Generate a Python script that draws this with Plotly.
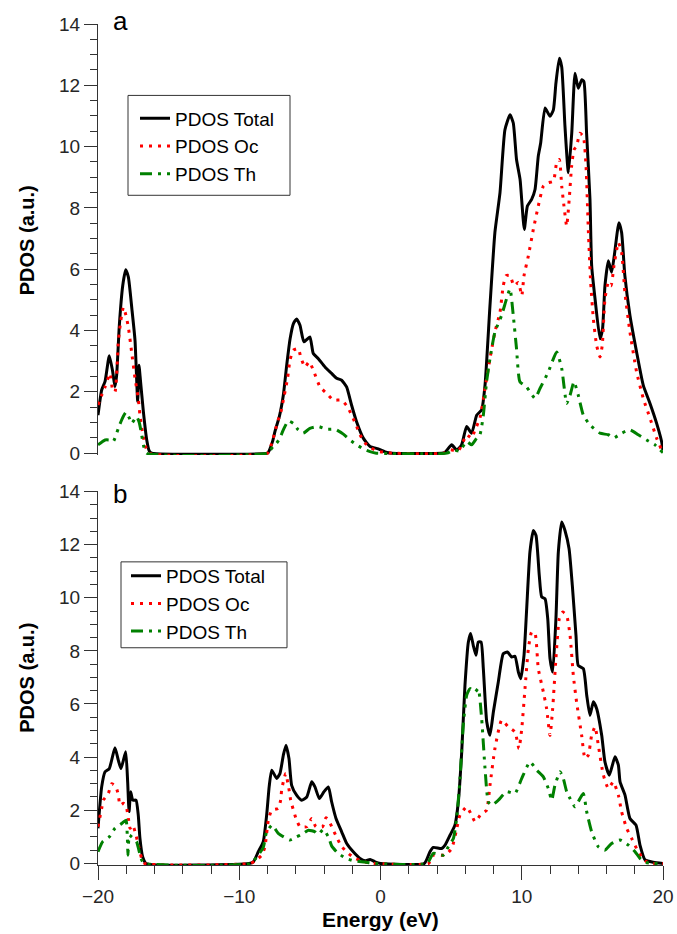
import plotly.graph_objects as go

# ---------------- data (panel a) ----------------
a_total_E = [-20,-19.74,-19.5,-19.2,-18.96,-18.8,-18.68,-18.49,-18.25,-18.04,-17.85,-17.6,-17.38,-17.19,-17.1,-17.0,-16.79,-16.55,-16.37,-16.2,
             -8.0,-7.94,-7.63,-7.47,-7.16,-6.88,-6.64,-6.4,-6.17,-5.94,-5.7,-5.42,-5.0,-4.76,-4.4,-3.93,-3.46,-3.1,-2.75,-2.4,-2.05,-1.7,-1.22,-0.74,-0.16,0.44,0.8,
             4.3,4.57,5.04,5.39,5.74,6.1,6.45,6.81,7.16,7.4,7.75,8.1,8.46,8.81,9.17,9.4,9.63,9.88,10.18,10.4,10.7,10.94,11.17,11.34,11.65,12.0,12.24,12.42,12.66,12.83,
             13.06,13.3,13.54,13.77,14.0,14.25,14.4,14.59,14.83,14.95,15.19,15.54,15.72,15.89,16.13,16.36,16.55,16.88,17.07,17.3,17.66,18.13,18.6,19.08,19.55,19.9,20]
a_total = [1.24,2.06,2.34,3.18,2.66,2.17,2.54,4.17,5.46,5.98,5.74,4.7,3.68,1.69,2.87,2.4,1.36,0.43,0.07,0,
           0,0.03,0.4,0.71,1.2,1.89,2.87,3.73,4.22,4.38,4.17,3.63,3.79,3.25,3.08,2.81,2.6,2.44,2.38,2.16,1.57,1.03,0.49,0.22,0.14,0.02,0,
           0,0.03,0.27,0.1,0.27,0.87,0.65,1.24,1.41,2.22,4.81,7.2,8.5,10.55,11.04,10.77,9.58,8.93,7.3,8.06,8.28,8.6,9.69,10.12,11.26,10.99,11.2,12.07,12.88,12.6,
           10.66,9.15,10.44,12.39,11.9,12.18,12.12,10.44,8.28,6.11,5.03,3.73,4.06,5.46,6.28,5.9,6.44,7.52,7.2,5.79,4.49,3.3,2.22,1.62,0.97,0.38,0.1]

a_oc_E = [-20,-19.74,-19.5,-19.15,-18.96,-18.8,-18.56,-18.4,-18.2,-18.02,-17.85,-17.62,-17.38,-17.15,-17.03,-16.86,-16.67,-16.4,
          -8.0,-7.82,-7.59,-7.3,-7.05,-6.81,-6.58,-6.41,-6.17,-5.82,-5.65,-5.35,-5.04,-4.76,-4.28,-3.81,-3.34,-2.75,-2.35,-2.04,-1.73,-1.45,-1.1,-0.63,-0.16,0.44,0.8,
          4.5,4.92,5.5,5.86,6.1,6.45,6.69,7.04,7.4,7.75,8.1,8.46,8.69,8.89,9.17,9.45,9.76,10.0,10.16,10.47,10.82,11.17,11.53,11.88,12.24,12.47,12.66,12.83,12.99,13.18,
          13.36,13.53,13.7,13.88,14.12,14.36,14.55,14.72,14.88,15.07,15.3,15.54,15.7,15.89,16.13,16.32,16.53,16.84,17.07,17.3,17.66,18.13,18.6,19.08,19.55,19.9,20]
a_oc = [1.57,1.89,2.16,2.6,2.06,2.0,3.63,4.28,4.76,4.49,4.11,3.3,2.44,1.79,1.24,0.71,0.27,0,
        0,0.16,0.49,1.0,1.35,1.89,2.44,3.03,3.36,3.41,3.14,2.81,2.98,2.71,2.16,1.95,1.73,1.73,1.52,1.24,0.92,0.6,0.33,0.16,0.06,0.02,0,
        0,0.11,0.07,0.38,0.6,0.49,0.76,1.14,2.11,3.08,3.95,4.6,5.46,5.79,5.79,5.46,5.57,5.14,5.79,6.44,7.3,8.06,8.71,8.82,8.87,9.47,9.58,8.71,8.06,7.41,
        8.28,9.36,9.9,10.01,10.44,10.33,9.36,7.2,5.57,4.38,3.52,3.14,3.52,5.03,5.57,5.46,6.11,6.87,6.55,5.25,3.95,2.65,1.79,1.14,0.49,0.11,0.03]

a_th_E = [-20,-19.5,-19.2,-18.92,-18.56,-18.33,-18.02,-17.78,-17.62,-17.27,-17.08,-16.91,-16.79,-16.55,
          -8.0,-7.8,-7.6,-7.35,-7.12,-6.88,-6.53,-6.17,-5.82,-5.47,-5.0,-4.4,-3.81,-3.22,-2.63,-2.16,-1.69,-1.22,-0.74,-0.3,
          4.7,5.16,5.6,6.1,6.45,6.81,7.04,7.28,7.51,7.75,8.1,8.57,8.92,9.17,9.4,9.63,9.87,10.34,10.94,11.29,11.88,12.47,12.83,13.18,13.42,13.7,14.0,14.36,
          14.83,15.54,16.13,16.48,17.07,17.66,18.25,18.84,19.43,19.79,20]
a_th = [0.27,0.43,0.43,0.38,0.81,1.08,1.33,1.14,0.97,1.19,1.0,0.6,0.27,0,
        0,0.1,0.22,0.33,0.49,0.76,1.05,0.97,0.76,0.65,0.81,0.87,0.78,0.78,0.62,0.43,0.27,0.14,0.05,0,
        0,0.1,0.07,0.38,0.27,0.49,0.6,1.24,2.33,3.08,3.95,4.49,5.03,5.36,4.49,3.41,2.33,2.16,1.79,2.11,2.65,3.3,2.76,1.62,1.89,2.33,1.89,1.24,
        0.92,0.65,0.6,0.49,0.65,0.76,0.6,0.43,0.27,0.11,0.02]

# ---------------- data (panel b) ----------------
b_total_E = [-20,-19.74,-19.5,-19.2,-18.8,-18.56,-18.37,-18.04,-17.9,-17.8,-17.69,-17.54,-17.31,-17.15,-17.03,-16.84,-16.6,
             -9.3,-9.0,-8.65,-8.3,-8.06,-7.88,-7.7,-7.35,-7.12,-6.88,-6.69,-6.48,-6.29,-5.94,-5.58,-5.22,-4.87,-4.64,-4.33,-4.0,-3.69,-3.46,-3.15,-2.75,-2.39,-1.93,-1.45,-1.1,-0.74,-0.39,0,
             3.1,3.5,3.74,4.33,4.57,4.92,5.27,5.51,5.75,5.98,6.22,6.38,6.57,6.76,6.92,7.12,7.28,7.52,7.75,7.99,8.34,8.69,8.98,9.29,9.52,9.76,9.93,10.16,10.35,10.58,10.82,11.01,
             11.24,11.41,11.65,11.84,12.0,12.19,12.42,12.59,12.83,13.06,13.35,13.58,13.84,14.0,14.36,14.6,14.83,15.07,15.3,15.66,15.89,16.2,16.6,16.84,16.96,17.31,17.66,18.09,18.37,18.73,19.32,20]
b_total = [1.32,2.88,3.45,3.57,4.35,3.88,3.57,4.2,3.07,1.95,2.7,2.38,2.38,1.82,0.94,0.25,0,
           0,0.06,0.44,0.82,1.82,2.9,3.51,3.2,3.38,4.07,4.45,3.95,2.94,2.57,2.38,2.5,3.07,2.88,2.44,2.7,2.88,2.32,1.69,1.19,0.75,0.44,0.19,0.1,0.15,0.06,0,
           0,0.44,0.6,0.56,0.69,1.06,1.44,2.32,4.2,6.7,8.33,8.65,8.2,7.83,8.33,8.33,7.33,5.33,4.82,5.7,6.83,7.89,7.96,7.77,7.8,7.2,6.95,7.83,9.59,11.72,12.53,12.34,
           10.84,10.03,9.96,9.21,7.71,7.2,9.21,11.72,12.85,12.53,11.84,10.46,8.58,7.45,7.33,6.33,5.57,6.08,5.83,4.82,3.82,3.32,4.01,3.7,3.07,2.57,1.69,1.44,0.69,0.13,0.04,0]

b_oc_E = [-20,-19.74,-19.62,-19.27,-19.03,-18.73,-18.56,-18.44,-18.2,-18.02,-17.85,-17.73,-17.54,-17.31,-17.15,-16.91,-16.7,
          -9.2,-8.89,-8.41,-8.18,-7.94,-7.7,-7.24,-7.07,-7.0,-6.88,-6.71,-6.45,-6.36,-5.98,-5.7,-5.22,-4.87,-4.57,-4.1,-3.86,-3.62,-3.34,-3.06,-2.75,-2.28,-1.8,-1.1,-0.5,
          3.4,3.74,4.57,5.04,5.35,5.63,6.1,6.45,6.69,7.16,7.51,7.75,8.1,8.58,9.05,9.52,9.8,10.0,10.23,10.47,10.7,10.94,11.17,11.53,11.76,12.0,12.19,12.42,12.66,12.9,13.18,
          13.42,13.65,13.88,14.24,14.48,14.71,14.95,15.19,15.42,15.78,16.13,16.48,16.84,17.07,17.43,17.78,18.13,18.49,18.84,19.3,20]
b_oc = [1.38,2.07,2.38,2.63,3.0,2.88,2.57,2.19,2.26,2.19,1.69,1.32,1.44,1.06,0.69,0.19,0,
        0,0.09,0.31,0.63,1.63,2.0,2.07,2.38,2.76,3.07,3.38,2.7,2.38,1.69,1.38,1.38,1.69,1.38,1.38,1.72,1.57,1.25,0.94,0.63,0.38,0.19,0.05,0,
        0,0.31,0.31,0.56,1.19,1.82,2.13,1.82,1.57,1.88,2.0,2.94,4.32,5.39,5.14,4.95,4.32,5.07,6.58,8.08,8.71,8.65,7.33,6.45,5.83,4.82,5.83,7.71,9.21,9.46,9.33,
        8.58,7.08,6.08,4.82,3.95,4.07,4.82,5.14,4.45,3.32,2.82,3.07,2.57,1.94,1.32,0.94,0.56,0.25,0.06,0,0]

b_th_E = [-20,-19.67,-19.2,-18.8,-18.32,-18.02,-17.92,-17.88,-17.78,-17.62,-17.27,-17.08,-16.91,-16.7,
          -9.2,-8.7,-8.3,-8.06,-7.67,-7.24,-6.76,-6.41,-5.94,-5.58,-5.11,-4.64,-4.4,-4.05,-3.69,-3.46,-3.06,-2.51,-1.93,-1.1,-0.5,
          3.3,3.74,4.45,4.8,5.16,5.39,5.63,5.86,6.1,6.34,6.69,6.92,7.16,7.4,7.63,7.87,8.34,8.93,9.52,10.0,10.58,11.06,11.53,11.88,12.12,12.35,12.71,12.94,13.18,
          13.42,13.77,14.12,14.36,14.6,14.95,15.42,15.89,16.36,16.96,17.55,18.02,18.37,18.73,19.3,20]
b_th = [0.44,0.82,1.0,1.32,1.5,1.63,0.94,0.31,1.06,1.0,0.82,0.44,0.13,0,
        0,0.28,0.6,1.19,1.44,1.13,0.97,0.88,1.0,1.09,1.25,1.19,1.09,1.28,1.0,0.66,0.41,0.21,0.1,0.05,0,
        0,0.38,0.31,0.63,0.94,1.69,3.2,5.2,6.33,6.58,6.45,6.58,5.45,3.57,2.32,2.19,2.38,2.7,2.63,3.2,3.82,3.51,3.26,2.82,2.38,2.94,3.45,3.2,2.7,
        2.44,2.13,2.44,2.63,1.94,1.19,0.63,0.5,0.75,0.88,0.69,0.44,0.19,0.04,0,0]

series_names = ["PDOS Total", "PDOS Oc", "PDOS Th"]
x_ticks = [-20, -10, 0, 10, 20]
y_ticks = [0, 2, 4, 6, 8, 10, 12, 14]

# ---------------- figure ----------------
W, H = 677, 934
ML, MR, MT, MB = 98, 14, 23.5, 68.5
PW, PH = W - ML - MR, H - MT - MB

def px_x(p):   # pixel -> paper x
    return (p - ML) / PW

def px_y(p):   # pixel -> paper y
    return (H - MB - p) / PH

FONT = "Liberation Sans, Arial, sans-serif"
styles = [
    dict(color="black", width=3, dash="solid", shape="spline", smoothing=0.5),
    dict(color="#ff0000", width=3, dash="3px,6px", shape="spline", smoothing=0.5),
    dict(color="#008000", width=3, dash="12px,6px,3px,6px,3px,6px", shape="spline", smoothing=0.5),
]

fig = go.Figure()
panel_data = [
    ("x", "y", "legend", [(a_total_E, a_total), (a_oc_E, a_oc), (a_th_E, a_th)]),
    ("x2", "y2", "legend2", [(b_total_E, b_total), (b_oc_E, b_oc), (b_th_E, b_th)]),
]
for xa, ya, lg, series in panel_data:
    for (E, v), name, st in zip(series, series_names, styles):
        fig.add_trace(go.Scatter(x=E, y=v, mode="lines", name=name, line=st,
                                 xaxis=xa, yaxis=ya, legend=lg, legendgroup=lg + name))

tickfont = dict(family=FONT, size=19, color="#262626")
yax = dict(range=[-0.06, 14], tickvals=y_ticks, ticks="outside", ticklen=13, tickwidth=1,
           tickcolor="#333", showline=True, linecolor="#333", linewidth=1, showgrid=False,
           zeroline=False, tickfont=tickfont, automargin=False,
           minor=dict(dtick=0.5, tick0=0, ticks="outside", ticklen=7, tickcolor="#333", showgrid=False))

legfont = dict(family=FONT, size=19, color="black")
fig.update_layout(
    template="none",
    width=W, height=H, margin=dict(l=ML, r=MR, t=MT, b=MB, autoexpand=False),
    paper_bgcolor="white", plot_bgcolor="white", showlegend=True,
    font=dict(family=FONT),
    xaxis=dict(domain=[0, 1], range=[-20, 20], anchor="y", showline=False, ticks="",
               showticklabels=False, showgrid=False, zeroline=False, automargin=False),
    yaxis=dict(domain=[px_y(455), 1.0], anchor="x", **yax),
    xaxis2=dict(domain=[0, 1], range=[-20, 20], anchor="y2", tickvals=x_ticks, ticks="outside",
                ticklen=14, tickcolor="#333", showline=True, linecolor="#333", linewidth=1,
                showgrid=False, zeroline=False, tickfont=tickfont, automargin=False,
                minor=dict(dtick=2, tick0=0, ticks="outside", ticklen=8, tickcolor="#333", showgrid=False)),
    yaxis2=dict(domain=[0, px_y(491.5)], anchor="x2", **yax),
    legend=dict(x=px_x(135), y=px_y(99), xanchor="left", yanchor="top", bgcolor="rgba(0,0,0,0)",
                borderwidth=0, font=legfont, tracegroupgap=0),
    legend2=dict(x=px_x(126), y=px_y(557), xanchor="left", yanchor="top", bgcolor="rgba(0,0,0,0)",
                 borderwidth=0, font=legfont, tracegroupgap=0),
)

# legend frames
fig.add_shape(type="rect", xref="paper", yref="paper", x0=px_x(128), x1=px_x(290),
              y0=px_y(195), y1=px_y(95), line=dict(color="#333", width=1))
fig.add_shape(type="rect", xref="paper", yref="paper", x0=px_x(121), x1=px_x(287),
              y0=px_y(648), y1=px_y(562), line=dict(color="#333", width=1))

lab_font = dict(family=FONT, size=26, color="black")
fig.add_annotation(text="a", xref="paper", yref="paper", x=px_x(120), y=px_y(20),
                   showarrow=False, font=lab_font, xanchor="center", yanchor="middle")
fig.add_annotation(text="b", xref="paper", yref="paper", x=px_x(120), y=px_y(494),
                   showarrow=False, font=lab_font, xanchor="center", yanchor="middle")
fig.add_annotation(text="<b>PDOS (a.u.)</b>", xref="paper", yref="paper", x=px_x(27), y=px_y(240),
                   textangle=-90, showarrow=False, font=dict(family=FONT, size=20, color="black"),
                   xanchor="center", yanchor="middle")
fig.add_annotation(text="<b>PDOS (a.u.)</b>", xref="paper", yref="paper", x=px_x(27), y=px_y(678),
                   textangle=-90, showarrow=False, font=dict(family=FONT, size=20, color="black"),
                   xanchor="center", yanchor="middle")
fig.add_annotation(text="<b>Energy (eV)</b>", xref="paper", yref="paper", x=px_x(380), y=px_y(920),
                   showarrow=False, font=dict(family=FONT, size=21, color="black"),
                   xanchor="center", yanchor="middle")

fig.write_html("out.html")
